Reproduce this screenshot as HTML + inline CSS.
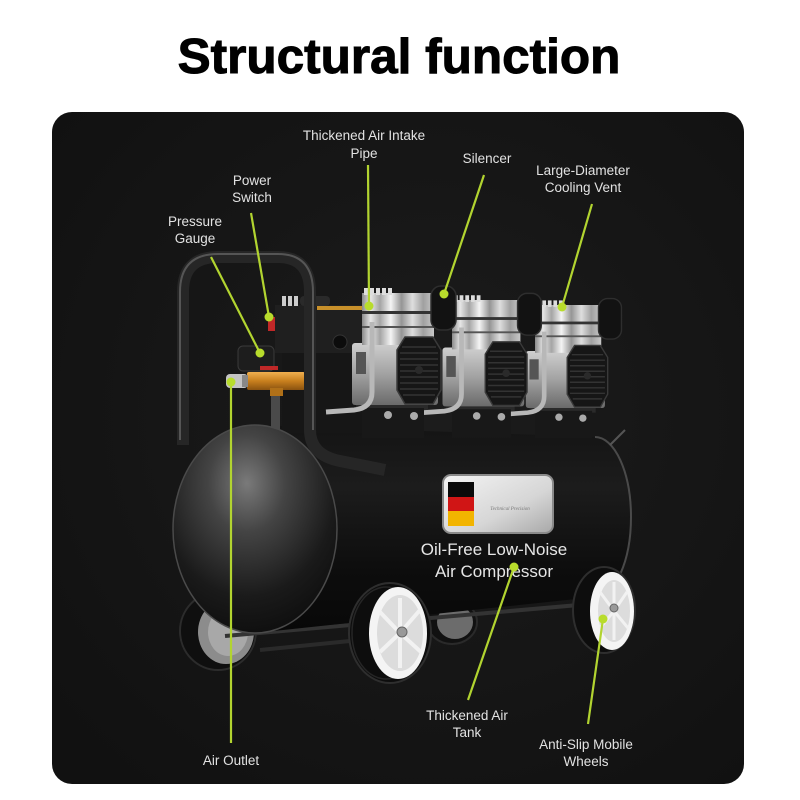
<!DOCTYPE html>
<html><head><meta charset="utf-8"><style>
html,body{margin:0;padding:0;background:#fff;}
svg{display:block;}
</style></head><body>
<svg width="800" height="800" viewBox="0 0 800 800" xmlns="http://www.w3.org/2000/svg">
<defs>
<radialGradient id="bg" cx="0.55" cy="0.45" r="0.7">
<stop offset="0" stop-color="#1c1c1c"/><stop offset="1" stop-color="#111"/>
</radialGradient>
<radialGradient id="sph" cx="0.45" cy="0.28" r="0.78">
<stop offset="0" stop-color="#7a7a7a"/><stop offset="0.3" stop-color="#444"/><stop offset="0.7" stop-color="#1a1a1a"/><stop offset="1" stop-color="#0c0c0c"/>
</radialGradient>
<linearGradient id="tank" x1="0" y1="0" x2="0" y2="1">
<stop offset="0" stop-color="#141414"/><stop offset="0.3" stop-color="#1c1c1c"/><stop offset="0.7" stop-color="#0d0d0d"/><stop offset="1" stop-color="#080808"/>
</linearGradient>
<linearGradient id="silv" x1="0" y1="0" x2="1" y2="0">
<stop offset="0" stop-color="#8a8a8a"/><stop offset="0.12" stop-color="#e6e6e6"/><stop offset="0.25" stop-color="#a5a5a5"/><stop offset="0.4" stop-color="#f4f4f4"/><stop offset="0.55" stop-color="#959595"/><stop offset="0.7" stop-color="#dedede"/><stop offset="0.85" stop-color="#a0a0a0"/><stop offset="1" stop-color="#c8c8c8"/>
</linearGradient>
<linearGradient id="silv2" x1="0" y1="0" x2="0" y2="1">
<stop offset="0" stop-color="#cfcfcf"/><stop offset="0.5" stop-color="#a2a2a2"/><stop offset="1" stop-color="#6a6a6a"/>
</linearGradient>
<linearGradient id="badge" x1="0" y1="0" x2="1" y2="1">
<stop offset="0" stop-color="#f4f4f4"/><stop offset="0.6" stop-color="#d6d6d6"/><stop offset="1" stop-color="#a8a8a8"/>
</linearGradient>
<linearGradient id="brass" x1="0" y1="0" x2="0" y2="1">
<stop offset="0" stop-color="#f0b050"/><stop offset="0.5" stop-color="#c8801e"/><stop offset="1" stop-color="#8a5210"/>
</linearGradient>
<g id="pump">
<rect x="356" y="402" width="72" height="8" fill="#2a2a2a"/>
<rect x="362" y="408" width="62" height="30" fill="#181818"/>
<rect x="352" y="343" width="86" height="62" rx="3" fill="url(#silv2)"/>
<rect x="356" y="352" width="10" height="22" fill="#555"/>
<rect x="362" y="293" width="72" height="52" fill="url(#silv)"/>
<rect x="364" y="288" width="4" height="7" fill="#ddd"/><rect x="370" y="288" width="4" height="7" fill="#ddd"/><rect x="376" y="288" width="4" height="7" fill="#ddd"/><rect x="382" y="288" width="4" height="7" fill="#ddd"/><rect x="388" y="288" width="4" height="7" fill="#ddd"/>
<rect x="362" y="311" width="72" height="3" fill="#333"/>
<rect x="362" y="326" width="72" height="2" fill="#555"/>
<rect x="431" y="286" width="25" height="44" rx="10" fill="#121212" stroke="#2e2e2e" stroke-width="1.5"/>
<polygon points="405,337 433,337 441,350 441,390 433,404 405,404 397,390 397,350" fill="#161616" stroke="#3a3a3a" stroke-width="1.5"/>
<g stroke="#333" stroke-width="1.6">
<line x1="402" y1="347" x2="436" y2="347"/><line x1="400" y1="353" x2="438" y2="353"/><line x1="400" y1="359" x2="438" y2="359"/><line x1="400" y1="365" x2="438" y2="365"/><line x1="400" y1="371" x2="438" y2="371"/><line x1="400" y1="377" x2="438" y2="377"/><line x1="400" y1="383" x2="438" y2="383"/><line x1="400" y1="389" x2="438" y2="389"/><line x1="403" y1="395" x2="435" y2="395"/>
</g>
<circle cx="419" cy="370" r="4" fill="#2a2a2a"/>
<path d="M372,322 L372,392 Q372,408 354,410 L326,412" fill="none" stroke="#b8b8b8" stroke-width="5"/>
<circle cx="388" cy="415" r="4" fill="#aaa"/><circle cx="414" cy="416" r="4" fill="#aaa"/>
</g>
</defs>

<!-- title -->
<text x="399" y="73" text-anchor="middle" font-family="Liberation Sans, sans-serif" font-weight="bold" font-size="49.5" fill="#000" stroke="#000" stroke-width="1">Structural function</text>

<!-- panel -->
<rect x="52" y="112" width="692" height="672" rx="20" fill="url(#bg)"/>

<!-- back wheels -->
<ellipse cx="218" cy="631" rx="38" ry="39" fill="#0f0f0f" stroke="#2c2c2c" stroke-width="2"/>
<ellipse cx="226" cy="632" rx="28" ry="32" fill="#8c8c8c"/>
<ellipse cx="228" cy="632" rx="20" ry="24" fill="#a8a8a8"/>
<ellipse cx="452" cy="622" rx="25" ry="22" fill="#111" stroke="#2a2a2a" stroke-width="2"/>
<ellipse cx="455" cy="622" rx="18" ry="17" fill="#6c6c6c"/>

<!-- frame bar -->
<path d="M225,636 L590,604" stroke="#333" stroke-width="4" fill="none"/>
<path d="M260,650 L360,640" stroke="#2a2a2a" stroke-width="4" fill="none"/>

<!-- tank body -->
<path d="M255,425 L595,437 A36 80 0 0 1 595,597 L255,633 Z" fill="url(#tank)"/>
<path d="M595,437 A36 80 0 0 1 595,597" fill="none" stroke="#4a4a4a" stroke-width="2"/>
<path d="M610,445 L625,430" stroke="#555" stroke-width="2"/>

<!-- motor block -->
<rect x="275" y="305" width="92" height="48" fill="#1f1f1f"/>
<rect x="282" y="353" width="80" height="80" fill="#161616"/>
<rect x="282" y="296" width="4" height="10" fill="#ccc"/><rect x="288" y="296" width="4" height="10" fill="#ccc"/><rect x="294" y="296" width="4" height="10" fill="#ccc"/>
<circle cx="340" cy="342" r="7" fill="#0c0c0c" stroke="#333"/>
<rect x="317" y="306" width="48" height="4" fill="#c8902a"/>
<rect x="300" y="296" width="30" height="10" rx="4" fill="#2a2a2a"/>

<!-- pumps -->
<use href="#pump" transform="translate(535,305) scale(0.92) translate(-362,-293)"/>
<use href="#pump" transform="translate(452,300) scale(0.95) translate(-362,-293)"/>
<use href="#pump"/>

<!-- power switch, gauge, manifold -->
<rect x="268" y="317" width="7" height="14" fill="#c02828"/>
<rect x="271" y="393" width="9" height="40" fill="#4a4a4a"/>
<rect x="238" y="346" width="36" height="25" rx="5" fill="#1d1d1d" stroke="#3a3a3a"/>
<rect x="260" y="366" width="18" height="4" fill="#c02828"/>
<rect x="247" y="372" width="58" height="18" rx="2" fill="url(#brass)"/>
<rect x="270" y="388" width="13" height="8" fill="#b07018"/>
<rect x="226" y="374" width="22" height="14" rx="4" fill="#c4c4c4"/>
<rect x="242" y="375" width="6" height="12" fill="#888"/>

<!-- handle -->
<path d="M183,445 L183,292 Q183,257 218,257 L278,257 Q310,257 310,292 L310,430 Q310,455 340,461 L385,470" fill="none" stroke="#262626" stroke-width="12" stroke-linejoin="round"/>
<path d="M180,440 L180,292 Q180,254 218,254 L278,254 Q313,254 313,292 L313,430" fill="none" stroke="#555" stroke-width="2"/>

<!-- sphere -->
<ellipse cx="255" cy="529" rx="82" ry="104" fill="url(#sph)" stroke="#4a4a4a" stroke-width="1.5"/>

<!-- front wheels -->
<ellipse cx="390" cy="633" rx="41" ry="50" fill="#0d0d0d" stroke="#2e2e2e" stroke-width="2"/>
<ellipse cx="386" cy="633" rx="34" ry="46" fill="none" stroke="#262626" stroke-width="1.5"/>
<ellipse cx="398" cy="633" rx="29" ry="46" fill="#f4f4f4"/>
<ellipse cx="400" cy="633" rx="23" ry="38" fill="#dcdcdc"/>
<g stroke="#f2f2f2" stroke-width="4">
<line x1="400" y1="633" x2="400" y2="598"/><line x1="400" y1="633" x2="420" y2="610"/><line x1="400" y1="633" x2="421" y2="652"/><line x1="400" y1="633" x2="400" y2="668"/><line x1="400" y1="633" x2="380" y2="652"/><line x1="400" y1="633" x2="380" y2="612"/>
</g>
<circle cx="402" cy="632" r="5" fill="#999" stroke="#666"/>
<ellipse cx="604" cy="610" rx="31" ry="43" fill="#0d0d0d" stroke="#2e2e2e" stroke-width="2"/>
<ellipse cx="612" cy="611" rx="22" ry="39" fill="#f4f4f4"/>
<ellipse cx="614" cy="611" rx="16" ry="31" fill="#dcdcdc"/>
<g stroke="#f2f2f2" stroke-width="3">
<line x1="614" y1="611" x2="614" y2="582"/><line x1="614" y1="611" x2="627" y2="592"/><line x1="614" y1="611" x2="628" y2="628"/><line x1="614" y1="611" x2="614" y2="640"/><line x1="614" y1="611" x2="600" y2="628"/><line x1="614" y1="611" x2="600" y2="592"/>
</g>
<circle cx="614" cy="608" r="4" fill="#999" stroke="#666"/>

<!-- badge -->
<rect x="443" y="475" width="110" height="58" rx="8" fill="url(#badge)" stroke="#8a8a8a" stroke-width="2"/>
<rect x="448" y="482" width="26" height="15" fill="#0a0a0a"/>
<rect x="448" y="497" width="26" height="14" fill="#d01515"/>
<rect x="448" y="511" width="26" height="15" fill="#f2b400"/>
<text x="510" y="510" text-anchor="middle" font-family="Liberation Serif, serif" font-style="italic" font-size="5" fill="#777">Technical Precision</text>

<text x="494" y="555" text-anchor="middle" font-family="Liberation Sans, sans-serif" font-size="17" fill="#e6e6e6">Oil-Free Low-Noise</text>
<text x="494" y="577" text-anchor="middle" font-family="Liberation Sans, sans-serif" font-size="17" fill="#e6e6e6">Air Compressor</text>

<!-- callout lines -->
<g stroke="#b2d430" stroke-width="2.2" fill="none">
<line x1="368" y1="165" x2="369" y2="306"/>
<line x1="484" y1="175" x2="444" y2="294"/>
<line x1="592" y1="204" x2="562" y2="307"/>
<line x1="251" y1="213" x2="269" y2="317"/>
<line x1="211" y1="257" x2="260" y2="353"/>
<line x1="231" y1="382" x2="231" y2="743"/>
<line x1="514" y1="567" x2="468" y2="700"/>
<line x1="603" y1="619" x2="588" y2="724"/>
</g>
<g fill="#b8dc2c">
<circle cx="369" cy="306" r="4.5"/><circle cx="444" cy="294" r="4.5"/><circle cx="562" cy="307" r="4.5"/><circle cx="269" cy="317" r="4.5"/><circle cx="260" cy="353" r="4.5"/><circle cx="231" cy="382" r="4.5"/><circle cx="514" cy="567" r="4.5"/><circle cx="603" cy="619" r="4.5"/>
</g>

<!-- labels -->
<g font-family="Liberation Sans, sans-serif" font-size="13.5" fill="#e2e2e2" text-anchor="middle">
<text x="364" y="140">Thickened Air Intake</text>
<text x="364" y="158">Pipe</text>
<text x="487" y="163">Silencer</text>
<text x="583" y="175">Large-Diameter</text>
<text x="583" y="192">Cooling Vent</text>
<text x="252" y="185">Power</text>
<text x="252" y="202">Switch</text>
<text x="195" y="226">Pressure</text>
<text x="195" y="243">Gauge</text>
<text x="231" y="765">Air Outlet</text>
<text x="467" y="720">Thickened Air</text>
<text x="467" y="737">Tank</text>
<text x="586" y="749">Anti-Slip Mobile</text>
<text x="586" y="766">Wheels</text>
</g>
</svg>
</body></html>
